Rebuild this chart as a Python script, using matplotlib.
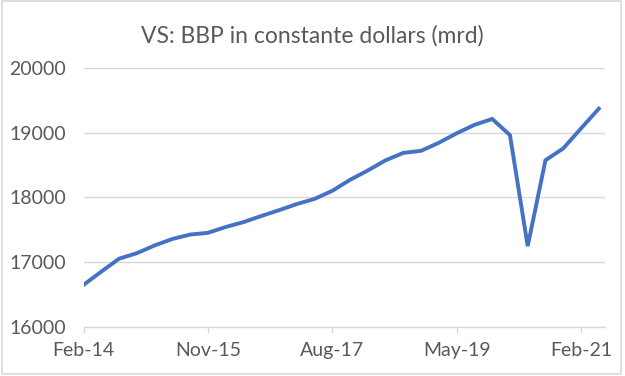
import matplotlib
matplotlib.use('Agg')
import matplotlib.pyplot as plt
from matplotlib.patches import Rectangle

# quarterly real GDP, Q1 2014 .. Q2 2021 (billion constant dollars)
QUARTERS = ['Feb-14', 'May-14', 'Aug-14', 'Nov-14',
            'Feb-15', 'May-15', 'Aug-15', 'Nov-15',
            'Feb-16', 'May-16', 'Aug-16', 'Nov-16',
            'Feb-17', 'May-17', 'Aug-17', 'Nov-17',
            'Feb-18', 'May-18', 'Aug-18', 'Nov-18',
            'Feb-19', 'May-19', 'Aug-19', 'Nov-19',
            'Feb-20', 'May-20', 'Aug-20', 'Nov-20',
            'Feb-21', 'May-21']
GDP = [16645, 16850, 17050, 17135,
       17255, 17355, 17423, 17450,
       17540, 17616, 17710, 17800,
       17895, 17975, 18100, 18270,
       18415, 18572, 18687, 18719,
       18844, 18990, 19120, 19212,
       18962, 17245, 18573, 18756,
       19065, 19370]
Y_TICKS = [16000, 17000, 18000, 19000, 20000]
X_TICK_EVERY = 7

TITLE = 'VS: BBP in constante dollars (mrd)'
TEXT_COLOR = '#595959'
GRID_COLOR = '#D9D9D9'
LINE_COLOR = '#4472C4'

plt.rcParams['font.family'] = ['Lato', 'DejaVu Sans']

fig = plt.figure(figsize=(6.25, 3.76), dpi=100)
ax = fig.add_axes([0.1338, 0.1316, 0.8336, 0.6875])

x = list(range(len(GDP)))
ax.plot(x, GDP, color=LINE_COLOR, linewidth=2.8, solid_joinstyle='miter')

ax.set_ylim(Y_TICKS[0], Y_TICKS[-1])
ax.set_xlim(0, len(GDP) - 1 + 0.33)
ax.set_yticks(Y_TICKS)
ax.set_yticklabels([str(v) for v in Y_TICKS])
xt = x[::X_TICK_EVERY]
ax.set_xticks(xt)
ax.set_xticklabels([QUARTERS[i] for i in xt])

ax.yaxis.grid(True, color=GRID_COLOR, linewidth=1.0)
ax.set_axisbelow(True)
for side in ('top', 'right', 'left'):
    ax.spines[side].set_visible(False)
ax.spines['bottom'].set_color(GRID_COLOR)
ax.spines['bottom'].set_linewidth(1.0)

ax.tick_params(axis='y', length=0, pad=12.5, labelsize=14, labelcolor=TEXT_COLOR)
ax.tick_params(axis='x', length=4, width=1.0, color=GRID_COLOR, pad=7,
               labelsize=14, labelcolor=TEXT_COLOR)

fig.text(0.5, 1 - 36 / 376, TITLE, ha='center', va='center',
         fontsize=16.5, color=TEXT_COLOR)

# chart area border
fig.patches.append(Rectangle((0.003, 0.005), 0.991, 0.992, transform=fig.transFigure,
                             fill=False, edgecolor=GRID_COLOR, linewidth=1.2))

fig.savefig('out.png', dpi=100)
